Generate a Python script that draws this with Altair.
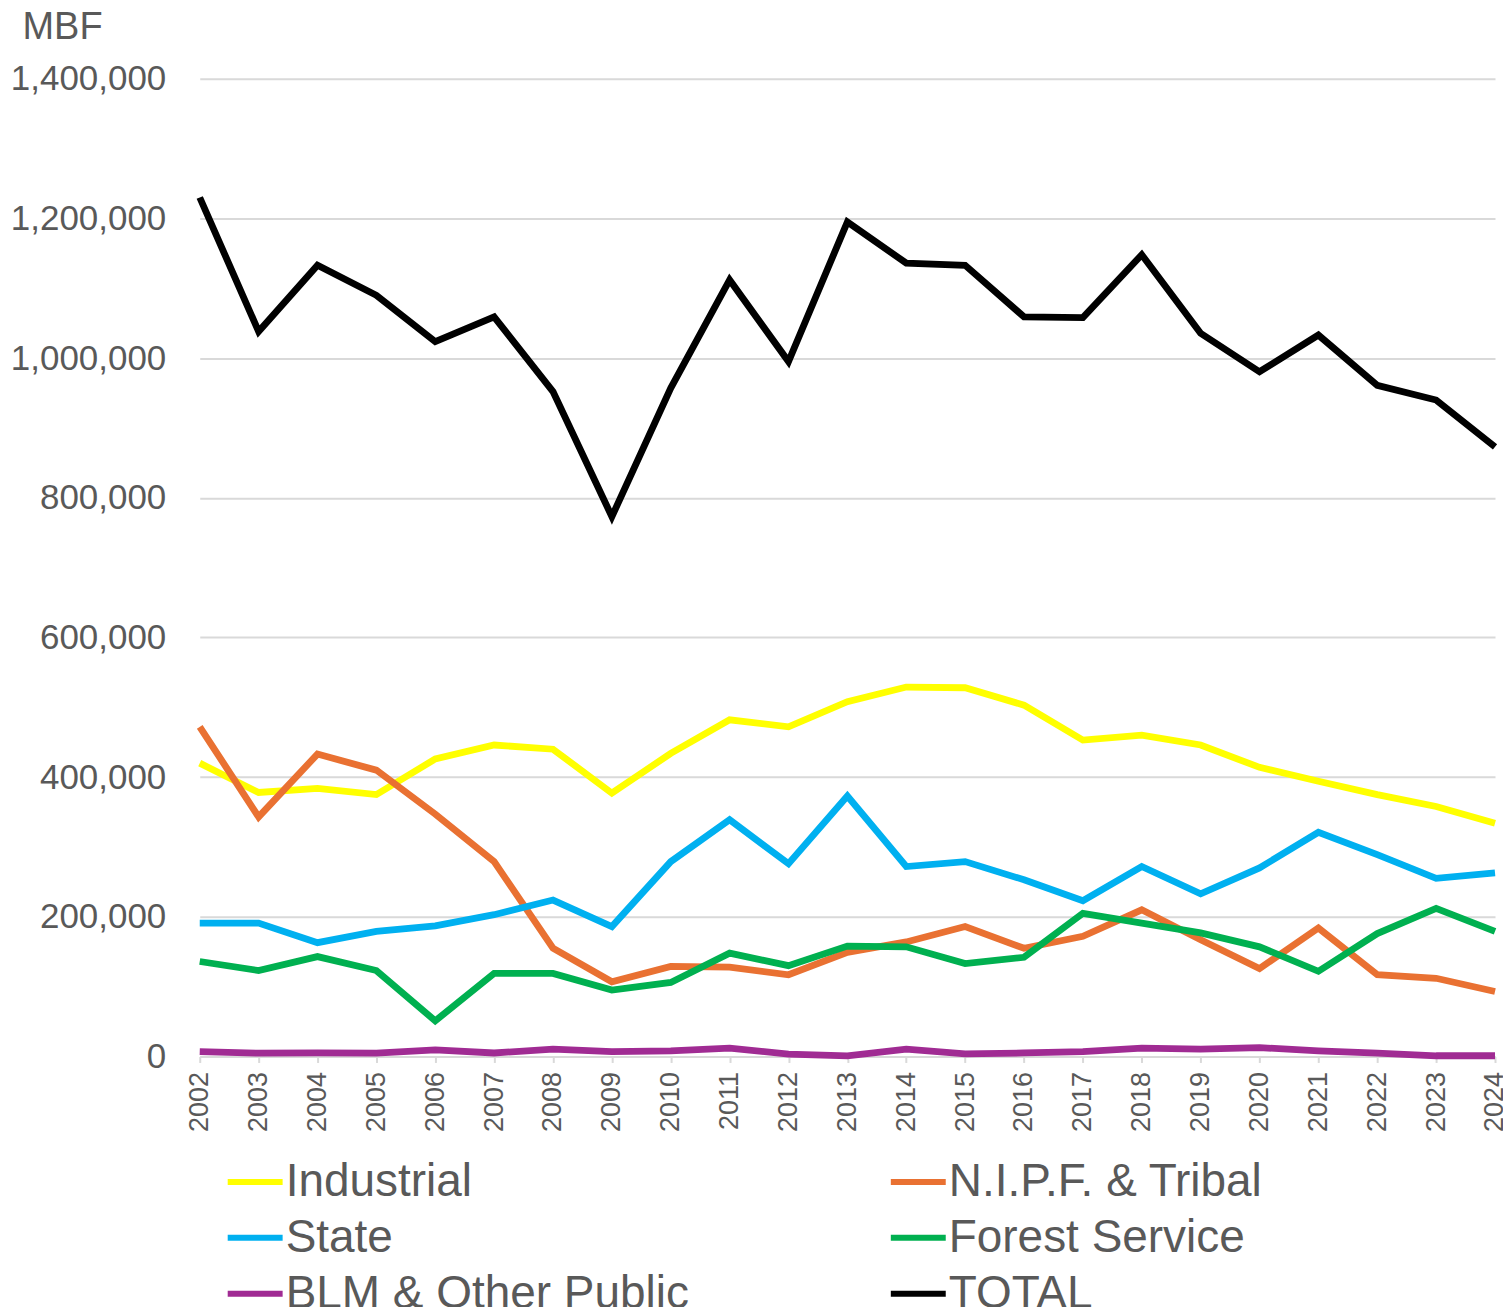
import altair as alt
import pandas as pd

years = [str(y) for y in range(2002, 2025)]

series_names = ["Industrial", "N.I.P.F. & Tribal", "State", "Forest Service",
                "BLM & Other Public", "TOTAL"]
series_colors = {"Industrial": "#FFFF00", "N.I.P.F. & Tribal": "#E97132",
                 "State": "#00B0F0", "Forest Service": "#00B050",
                 "BLM & Other Public": "#A02B93", "TOTAL": "#000000"}
# legend is filled column by column: left column first
legend_order = ["Industrial", "State", "BLM & Other Public",
                "N.I.P.F. & Tribal", "Forest Service", "TOTAL"]

industrial = [420000, 378000, 384000, 375000, 426000, 446000, 440000, 377000, 434000,
              482000, 472000, 508000, 529000, 528000, 503000, 453000, 460000, 446000,
              414000, 394000, 375000, 358000, 334000]
nipf = [472000, 343000, 433000, 410000, 347000, 279000, 155000, 107000, 129000,
        128000, 117000, 149000, 164000, 186000, 155000, 172000, 210000, 167000,
        126000, 184000, 117000, 112000, 93000]
state = [191000, 191000, 163000, 179000, 187000, 203000, 224000, 186000, 279000,
         339000, 276000, 373000, 272000, 279000, 253000, 223000, 272000, 233000,
         270000, 321000, 289000, 255000, 263000]
forest = [136000, 123000, 143000, 123000, 51000, 119000, 119000, 95000, 106000,
          148000, 130000, 158000, 157000, 133000, 142000, 205000, 191000, 177000,
          157000, 122000, 176000, 212000, 179000]
blm = [7000, 4700, 5000, 4700, 9400, 5000, 10400, 7000, 8000, 11900, 3300, 900,
       10400, 3800, 5000, 7000, 11900, 10400, 12700, 8000, 4700, 1000, 1000]
total = [1230000, 1038000, 1133000, 1090000, 1023500, 1059000, 952000, 773000, 957000,
         1112000, 995000, 1195000, 1136000, 1133000, 1059000, 1058000, 1148000, 1035500,
         980500, 1033000, 961000, 940000, 873000]

all_values = [industrial, nipf, state, forest, blm, total]

rows = []
for i, (name, vals) in enumerate(zip(series_names, all_values)):
    for yr, v in zip(years, vals):
        rows.append({"Year": yr, "Series": name, "Value": v, "order": i})
df = pd.DataFrame(rows)

FONT = "Liberation Sans"
TEXT = "#595959"
GRID = "#D9D9D9"

chart = alt.Chart(df).mark_line(strokeWidth=6.8, strokeJoin="miter").encode(
    x=alt.X("Year:O", sort=years,
            scale=alt.Scale(type="point", padding=0),
            axis=alt.Axis(title=None, labelAngle=-90, labelFontSize=27, labelFont=FONT,
                          labelColor=TEXT, ticks=True, tickColor=GRID, tickSize=6,
                          tickWidth=2, domain=True, domainColor=GRID, domainWidth=2,
                          labelPadding=9, grid=False)),
    y=alt.Y("Value:Q",
            scale=alt.Scale(domain=[0, 1400000], nice=False),
            axis=alt.Axis(title="MBF", values=list(range(0, 1400001, 200000)),
                          format=",.0f", labelFontSize=35, labelFont=FONT, labelColor=TEXT,
                          labelPadding=34, ticks=False, domain=False, grid=True,
                          gridColor=GRID, gridWidth=2,
                          titleAngle=0, titleX=-178, titleY=-40, titleAlign="left",
                          titleBaseline="alphabetic", titleFontSize=38,
                          titleFontWeight="normal", titleFont=FONT, titleColor=TEXT)),
    color=alt.Color("Series:N",
                    scale=alt.Scale(domain=legend_order,
                                    range=[series_colors[s] for s in legend_order]),
                    sort=legend_order,
                    legend=alt.Legend(title=None, orient="none", legendX=25, legendY=1074,
                                      columns=2, columnPadding=190, rowPadding=2,
                                      symbolType="stroke", symbolSize=3025,
                                      symbolStrokeWidth=6, labelFontSize=46,
                                      labelFont=FONT, labelColor=TEXT, labelLimit=1000,
                                      labelOffset=0)),
    order=alt.Order("order:Q"),
).properties(
    width=1297, height=979,
    autosize=alt.AutoSizeParams(type="none"),
    padding={"left": 192, "top": 70, "right": 8, "bottom": 250},
).configure_view(stroke=None)

chart.save("out.html", embed_options={"renderer": "svg", "actions": False})
